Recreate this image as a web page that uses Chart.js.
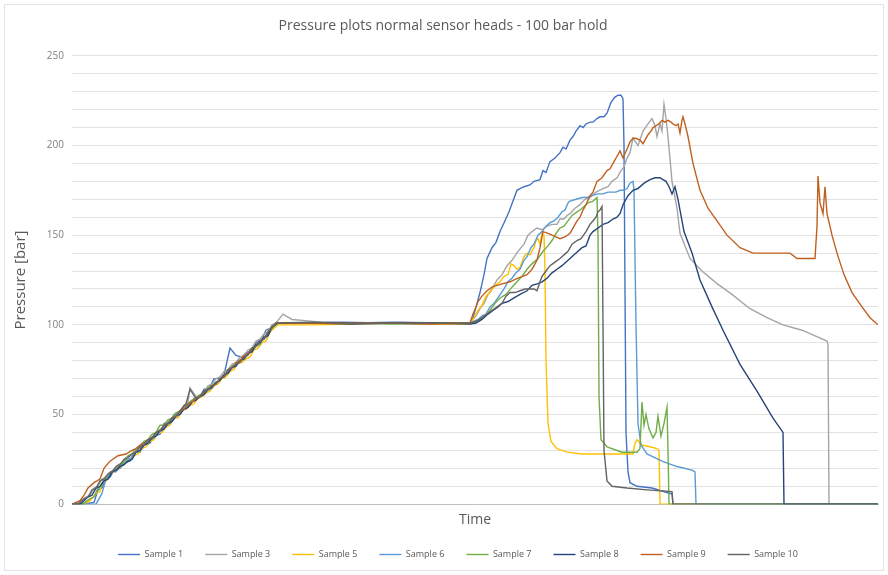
<!DOCTYPE html>
<html>
<head>
<meta charset="utf-8">
<script src="https://cdn.jsdelivr.net/npm/chart.js@4.4.1/dist/chart.umd.min.js"></script>
<style>
  body { margin: 0; background: #fff; }
  #wrap { width: 888px; height: 575px; }
</style>
</head>
<body>
<div id="wrap"><canvas id="chart" width="888" height="575"></canvas></div>
<script>
// time is in arbitrary units (no tick labels on the time axis)
const timeMax = 806;
const yTicks = [0, 50, 100, 150, 200, 250];

const sample1 = [[0,0],[10,0],[22,1],[26,8],[30,9],[34,14],[38,15],[42,19],[48,20],[52,23],[58,24],[62,29],[68,29],[72,33],[78,34],[82,38],[88,39],[92,45],[98,46],[102,50],[108,51],[112,55],[118,55],[122,59],[128,60],[132,64],[138,65],[142,70],[148,70],[152,72],[158,87],[164,83],[170,82],[174,84],[180,86],[184,90],[190,92],[194,97],[198,98],[204,101],
  [230,101],[270,101.5],[310,101],[350,100.5],[398,101],
  [401,104],[405,112],[408,118],[412,128],[415,137],[420,143],[424,146],[428,152],[433,158],[437,163],[441,169],[445,175],[448,176],[452,177],[458,178],[462,180],[468,181],[471,186],[474,185],[478,191],[483,193],[488,196],[491,199],[494,198],[498,203],[501,205],[504,208],[508,211],[511,210],[514,212],[518,213],[521,213],[525,215],[528,216],[532,216],[535,218],[539,224],[543,227],[546,228],[549,228],[551,226],[552,200],[553,120],[554,40],[556,18],[558,12],[565,10],[580,9],[598,6],[600,6],[601,0],[806,0]];

const sample3 = [[0,0],[6,1],[14,4],[18,5],[22,9],[26,10],[30,14],[34,15],[38,18],[42,19],[46,22],[50,23],[54,26],[58,27],[62,29],[66,31],[70,33],[74,34],[78,37],[82,38],[86,41],[90,42],[94,45],[98,46],[102,49],[106,50],[110,53],[116,57],[118,65],[124,60],[128,61],[132,62],[136,66],[140,67],[144,70],[148,71],[152,74],[156,75],[160,78],[164,79],[168,82],[172,83],[176,86],[180,87],[184,91],[188,92],[192,95],[196,96],[200,100],[204,101],[211,106],
  [220,103],[250,101.5],[290,101],[330,101.5],[370,101],[398,101],
  [404,105],[408,109],[412,112],[416,117],[420,120],[425,125],[430,128],[435,133],[440,136],[446,141],[452,145],[456,150],[460,152],[465,154],[470,153],[475,155],[480,156],[485,156],[488,159],[492,159],[495,161],[498,162],[503,165],[508,167],[513,170],[518,171],[524,174],[531,176],[536,177],[540,180],[545,182],[549,186],[552,188],[555,193],[558,196],[561,204],[566,200],[571,208],[576,212],[580,215],[583,211],[585,205],[588,212],[590,208],[592,223],[594,215],[596,205],[600,180],[605,165],[608,151],[613,144],[618,137],[630,130],[645,123],[660,117],[678,109],[695,104],[711,100],[730,97],[755,91],[756,89],[757,0],[806,0]];

const sample5 = [[0,0],[12,0],[18,2],[24,6],[28,7],[30,12],[34,13],[38,17],[42,18],[46,20],[50,21],[54,24],[58,25],[62,27],[66,28],[70,31],[74,32],[78,35],[82,36],[86,40],[90,40],[94,43],[98,44],[102,48],[106,48],[110,52],[114,53],[118,55],[122,56],[126,59],[130,60],[134,62],[138,63],[142,66],[146,67],[150,70],[154,71],[158,74],[162,75],[166,79],[170,79],[174,81],[178,82],[182,86],[186,87],[190,90],[194,91],[198,96],[206,100],
  [240,100],[280,100.5],[320,101],[360,100.5],[398,100.5],
  [402,104],[406,108],[410,111],[414,116],[418,118],[423,122],[428,124],[432,127],[436,128],[439,134],[442,133],[445,131],[448,132],[452,138],[455,140],[458,139],[462,143],[464,147],[466,148],[468,145],[470,151],[472,150],[473,130],[474,80],[476,45],[479,35],[485,31],[495,29],[510,28],[530,28],[550,28],[561,28],[563,34],[565,36],[570,33],[578,32],[585,31],[587,30],[588,0],[806,0]];

const sample6 = [[0,0],[14,0],[24,0],[30,6],[34,14],[40,18],[44,18],[48,21],[52,22],[56,25],[60,26],[64,29],[68,30],[70,34],[74,34],[78,36],[82,37],[86,40],[90,41],[94,44],[98,45],[102,49],[106,50],[110,53],[114,53],[118,57],[122,58],[126,60],[130,61],[134,63],[138,64],[142,67],[146,68],[150,71],[154,72],[158,76],[162,77],[166,80],[170,81],[174,84],[178,85],[182,88],[186,89],[190,92],[194,93],[198,97],[205,101],
  [240,101],[280,101],[320,101.5],[360,101],[398,101],
  [402,102],[406,103],[410,105],[414,106],[418,110],[422,112],[427,116],[432,120],[436,124],[440,126],[444,129],[448,131],[452,136],[455,138],[459,143],[462,145],[466,150],[470,152],[474,155],[478,157],[482,158],[486,160],[490,163],[493,164],[496,168],[498,169],[504,170],[510,171],[515,171],[520,172],[526,173],[531,173],[536,174],[540,174],[544,174],[548,175],[552,175],[555,176],[558,179],[561,180],[562,175],[564,100],[566,45],[569,33],[575,28],[590,24],[605,21],[620,19],[623,18],[624,0],[806,0]];

const sample7 = [[0,0],[10,0],[18,3],[22,4],[26,9],[30,10],[32,14],[36,15],[40,18],[44,19],[48,22],[52,23],[56,27],[60,28],[64,31],[68,32],[72,35],[76,36],[80,39],[84,40],[88,44],[92,44],[96,47],[100,48],[104,51],[108,52],[112,55],[116,56],[120,58],[124,59],[128,61],[132,62],[136,65],[140,66],[144,68],[148,69],[152,72],[156,73],[160,77],[164,78],[168,80],[172,81],[176,84],[180,85],[184,88],[188,89],[192,93],[196,94],[200,98],[206,101],
  [240,101],[280,101],[320,100.5],[360,101],[398,101],
  [403,101],[408,103],[413,105],[418,108],[423,112],[428,115],[434,117],[440,121],[445,124],[450,127],[455,131],[460,134],[466,137],[471,141],[476,144],[480,147],[484,151],[488,154],[492,155],[496,158],[500,161],[505,163],[508,164],[512,166],[516,168],[521,169],[525,171],[526,150],[527,60],[529,36],[535,32],[550,29],[565,29],[568,31],[570,57],[572,44],[574,50],[577,42],[581,37],[584,40],[586,49],[589,38],[592,45],[595,54],[596,30],[597,0],[806,0]];

const sample8 = [[0,0],[8,0],[16,4],[20,5],[24,9],[28,10],[32,13],[36,14],[40,18],[44,19],[48,21],[52,22],[56,24],[60,25],[64,29],[68,30],[72,33],[76,34],[80,37],[84,38],[88,41],[92,42],[96,45],[100,46],[104,49],[108,50],[112,53],[116,54],[120,57],[124,58],[128,60],[132,61],[136,64],[140,65],[144,68],[148,69],[152,72],[156,73],[160,76],[164,77],[168,80],[172,81],[176,84],[180,85],[184,89],[188,90],[192,93],[196,94],[200,99],[206,101],
  [240,101],[280,100.5],[320,101],[360,101],[398,100.5],
  [404,101],[410,103],[416,106],[421,108],[426,110],[430,112],[436,113],[442,115],[448,117],[455,119],[460,122],[466,123],[470,124],[475,126],[480,129],[485,131],[490,133],[498,137],[504,140],[510,143],[514,144],[518,150],[521,152],[526,154],[531,156],[536,157],[541,159],[545,160],[548,162],[551,167],[556,172],[561,175],[566,176],[572,179],[578,181],[583,182],[588,182],[591,181],[594,180],[597,177],[600,173],[603,177],[606,170],[612,152],[620,140],[628,125],[640,110],[651,97],[668,78],[685,63],[701,48],[711,40],[712,0],[806,0]];

const sample9 = [[0,0],[8,2],[12,5],[16,9],[22,12],[28,14],[32,20],[38,24],[46,27],[54,28],[60,30],[64,31],[68,33],[72,34],[76,36],[80,37],[84,40],[88,41],[92,44],[96,45],[100,48],[104,49],[108,52],[112,53],[116,56],[120,57],[124,59],[128,60],[132,63],[136,64],[140,66],[144,67],[148,70],[152,71],[156,75],[160,76],[164,79],[168,80],[172,83],[176,84],[180,87],[184,88],[188,91],[192,92],[196,96],[204,101],
  [240,101],[280,101],[320,101],[360,100.5],[398,101],
  [401,106],[404,110],[406,113],[410,116],[415,119],[420,121],[425,122],[431,123],[438,124],[446,126],[455,128],[460,131],[465,136],[468,143],[471,152],[476,151],[480,150],[484,149],[488,148],[493,149],[498,151],[502,155],[505,158],[508,160],[511,164],[514,167],[518,172],[521,174],[525,180],[530,182],[535,186],[538,187],[542,191],[545,194],[548,197],[551,193],[555,198],[558,202],[561,204],[564,204],[568,203],[571,201],[574,204],[576,206],[579,208],[581,210],[584,211],[587,212],[590,214],[593,213],[596,214],[599,213],[601,212],[604,211],[606,212],[608,207],[610,214],[611,216],[613,212],[616,205],[621,190],[628,175],[636,165],[645,158],[655,150],[668,143],[681,140],[700,140],[718,140],[725,137],[743,137],[745,155],[746,183],[748,168],[751,162],[753,177],[755,162],[760,150],[765,140],[772,128],[780,118],[790,110],[798,104],[806,100]];

const sample10 = [[0,0],[6,0],[12,3],[16,4],[20,8],[24,9],[28,13],[32,14],[36,17],[40,18],[44,21],[48,22],[52,25],[56,26],[60,28],[64,29],[68,32],[72,33],[76,36],[80,37],[84,40],[88,41],[92,44],[96,45],[100,48],[104,49],[108,52],[114,56],[118,64],[124,59],[128,60],[132,63],[136,64],[140,66],[144,67],[148,70],[152,71],[156,75],[160,76],[164,78],[168,79],[172,82],[176,83],[180,87],[184,88],[188,91],[192,92],[196,96],[204,101],
  [240,101.5],[280,101],[320,101],[360,101],[398,101],
  [404,102],[410,104],[415,106],[420,108],[425,110],[430,112],[434,116],[438,118],[443,118],[448,119],[453,120],[458,120],[462,120],[465,119],[468,124],[470,127],[474,130],[478,133],[483,135],[488,137],[492,139],[496,141],[500,145],[505,147],[509,148],[514,152],[518,156],[521,158],[524,160],[526,163],[528,164],[530,166],[531,100],[532,30],[535,13],[540,10],[555,9],[575,8],[600,7],[601,0],[806,0]];

const seriesNames = ['Sample 1', 'Sample 3', 'Sample 5', 'Sample 6', 'Sample 7', 'Sample 8', 'Sample 9', 'Sample 10'];
const seriesData = [sample1, sample3, sample5, sample6, sample7, sample8, sample9, sample10];
const seriesColors = ['#4472C4', '#A5A5A5', '#FFC000', '#5B9BD5', '#70AD47', '#264478', '#C0601F', '#636363'];

const font = '"Open Sans", "Noto Sans", sans-serif';

// white background + thin chart border like the spreadsheet export
const frame = {
  id: 'frame',
  beforeDraw(chart) {
    const c = chart.ctx;
    c.save();
    c.fillStyle = '#fff';
    c.fillRect(0, 0, chart.width, chart.height);
    c.strokeStyle = '#e3e3e3';
    c.lineWidth = 1;
    c.strokeRect(4.5, 4.5, chart.width - 9, chart.height - 9);
    c.restore();
  },
  // legend in the original sits a bit right of the canvas centre
  afterLayout(chart) {
    chart.legend.left += 15;
    chart.legend.right += 15;
  }
};

const ctx = document.getElementById('chart').getContext('2d');
new Chart(ctx, {
  type: 'line',
  data: {
    datasets: seriesData.map((d, i) => ({
      label: seriesNames[i],
      data: d,
      borderColor: seriesColors[i],
      backgroundColor: seriesColors[i],
      borderWidth: 1.4,
      pointRadius: 0,
      tension: 0,
      fill: false,
      order: seriesData.length - i
    }))
  },
  options: {
    responsive: false,
    animation: false,
    layout: { padding: { left: 8, right: 10, top: 0, bottom: 6 } },
    plugins: {
      title: {
        display: true,
        text: 'Pressure plots normal sensor heads - 100 bar hold',
        color: '#595959',
        font: { family: font, size: 14, weight: 'normal' },
        padding: { top: 18, bottom: 21 }
      },
      legend: {
        position: 'bottom',
        labels: {
          usePointStyle: true,
          pointStyle: 'line',
          pointStyleWidth: 22,
          color: '#595959',
          font: { family: font, size: 9 },
          padding: 22,
          sort: (a, b) => a.datasetIndex - b.datasetIndex
        }
      },
      tooltip: { enabled: false }
    },
    scales: {
      x: {
        type: 'linear',
        min: 0,
        max: timeMax,
        grid: { display: false },
        border: { color: '#bfbfbf' },
        ticks: { display: false },
        afterFit(scale) { scale.height -= 1; },
        title: { display: true, text: 'Time', color: '#595959', font: { family: font, size: 14 }, padding: { top: 0, bottom: 0 } }
      },
      y: {
        min: 0,
        max: 250,
        afterBuildTicks(scale) {
          scale.ticks = [];
          for (let v = 0; v <= 250; v += 10) scale.ticks.push({ value: v });
        },
        afterFit(scale) { scale.width = 64; },
        grid: { color: '#e2e2e2', drawTicks: false },
        border: { display: false },
        ticks: {
          color: '#7f7f7f',
          font: { family: font, size: 10 },
          padding: 8,
          callback: v => (yTicks.includes(v) ? v : '')
        },
        title: { display: true, text: 'Pressure [bar]', color: '#595959', font: { family: font, size: 15 }, padding: { bottom: 0 } }
      }
    }
  },
  plugins: [frame]
});
</script>
</body>
</html>
